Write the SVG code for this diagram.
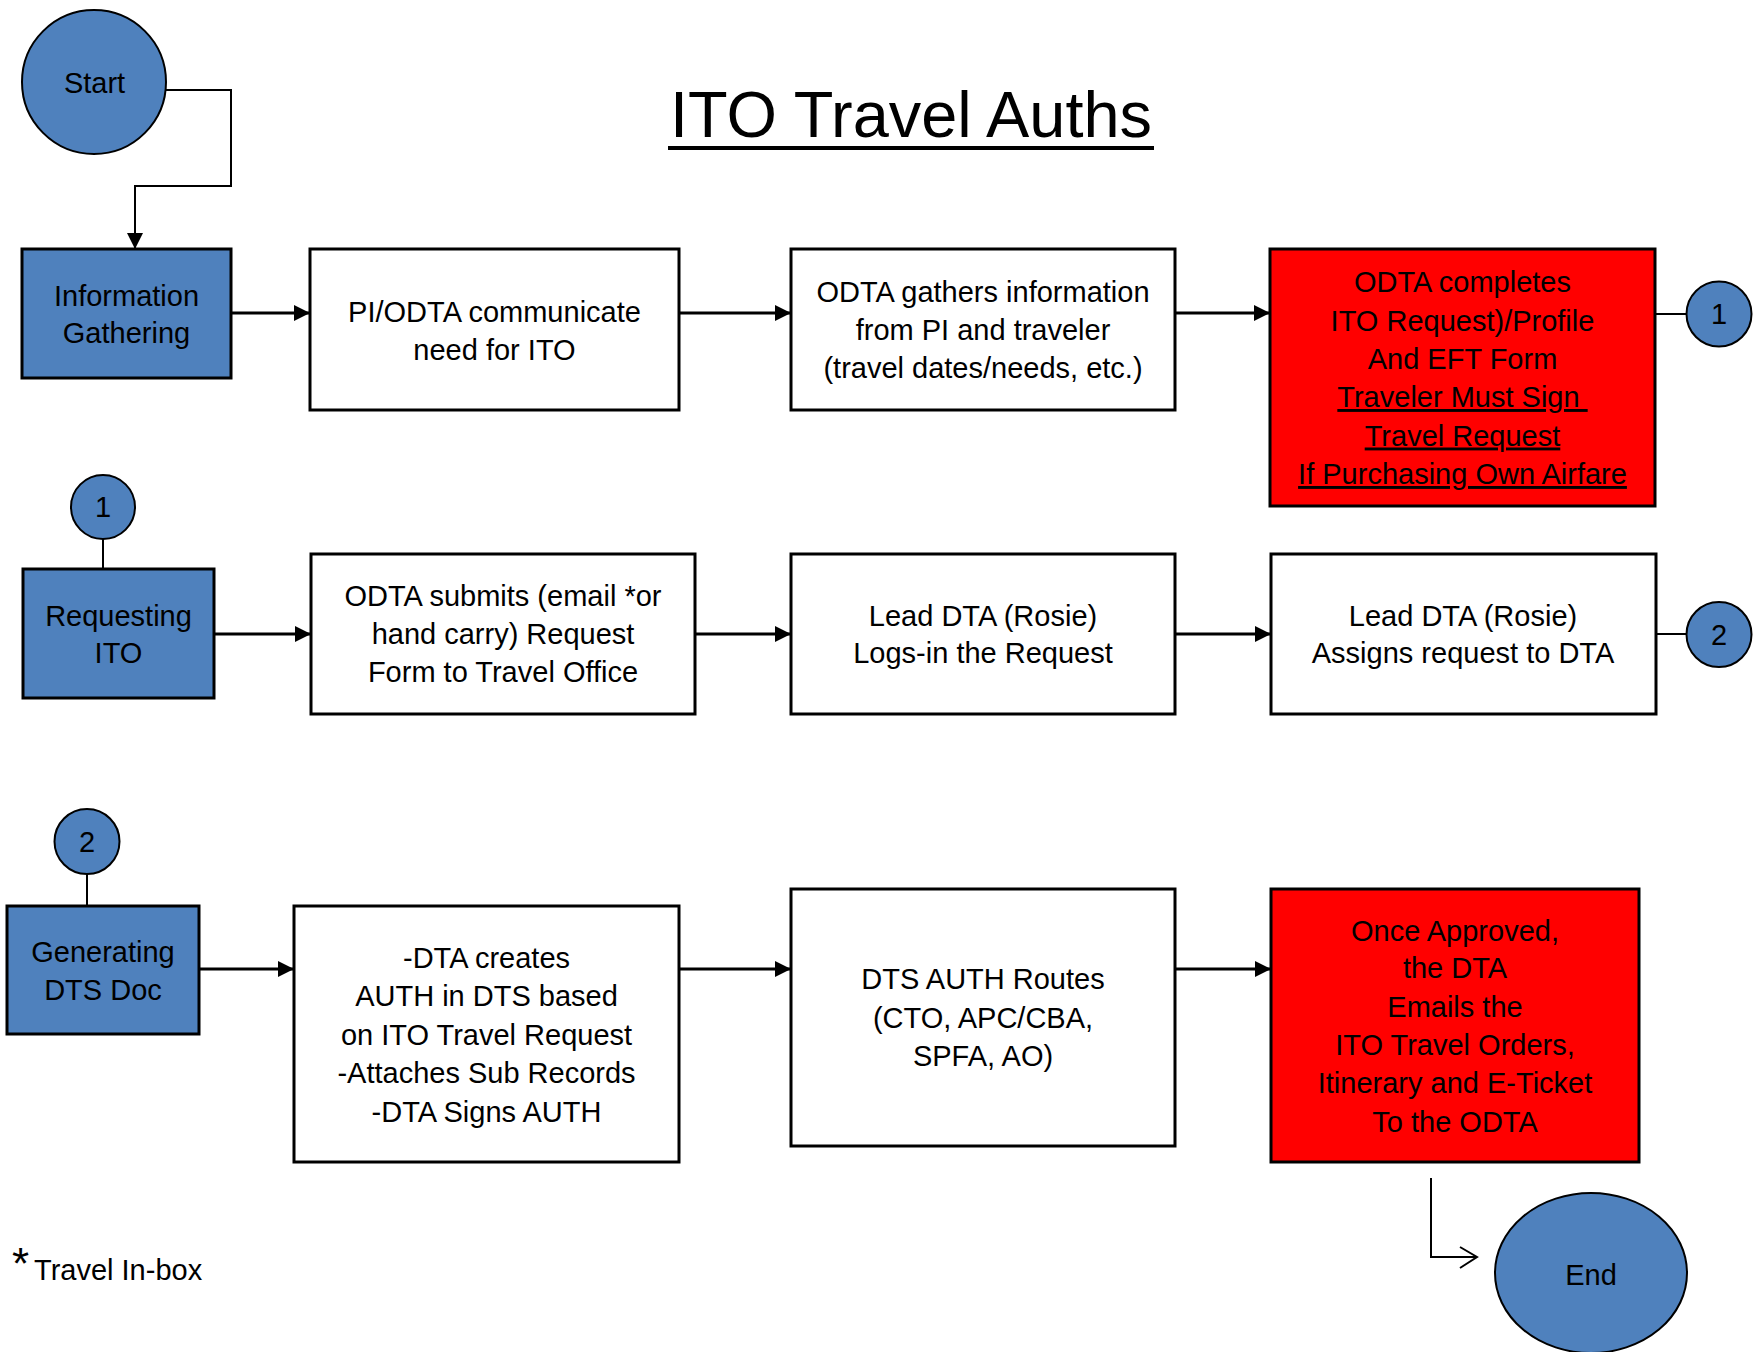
<svg xmlns="http://www.w3.org/2000/svg" width="1761" height="1352" viewBox="0 0 1761 1352">
<defs>
<marker id="ah" markerUnits="userSpaceOnUse" markerWidth="16" markerHeight="16" refX="16" refY="8" orient="auto">
<path d="M0,0 L16,8 L0,16 z" fill="#000"/>
</marker>
</defs>
<style>
.box{fill:#fff;stroke:#000;stroke-width:3}
.blue{fill:#4F81BD;stroke:#000;stroke-width:3}
.red{fill:#FF0000;stroke:#000;stroke-width:3}
.circ{fill:#4F81BD;stroke:#000;stroke-width:2}
.t{font-family:"Liberation Sans",Arial,sans-serif;font-size:29px;text-anchor:middle;fill:#000}
.u{text-decoration:underline}
.arr{fill:none;stroke:#000;stroke-width:3;marker-end:url(#ah)}
.ln{fill:none;stroke:#000;stroke-width:2}
</style>
<rect width="1761" height="1352" fill="#fff"/>

<g id="title">
<text x="911" y="137" style="font-family:'Liberation Sans',Arial,sans-serif;font-size:64px;text-anchor:middle" textLength="482" lengthAdjust="spacingAndGlyphs">ITO Travel Auths</text>
<rect x="668" y="146" width="486" height="4" fill="#000"/>
</g>

<g id="connectors">
<polyline class="ln" points="166,90 231,90 231,186 135,186 135,249" style="marker-end:url(#ah)"/>
<line class="arr" x1="231" y1="313" x2="310" y2="313"/>
<line class="arr" x1="679" y1="313" x2="791" y2="313"/>
<line class="arr" x1="1175" y1="313" x2="1270" y2="313"/>
<line class="ln" x1="1655" y1="314" x2="1687" y2="314"/>
<line class="ln" x1="103" y1="539" x2="103" y2="569"/>
<line class="arr" x1="214" y1="634" x2="311" y2="634"/>
<line class="arr" x1="695" y1="634" x2="791" y2="634"/>
<line class="arr" x1="1175" y1="634" x2="1271" y2="634"/>
<line class="ln" x1="1656" y1="634" x2="1687" y2="634"/>
<line class="ln" x1="87" y1="874" x2="87" y2="906"/>
<line class="arr" x1="199" y1="969" x2="294" y2="969"/>
<line class="arr" x1="679" y1="969" x2="791" y2="969"/>
<line class="arr" x1="1175" y1="969" x2="1271" y2="969"/>
<polyline class="ln" points="1431,1178 1431,1257 1477,1257"/>
<polyline class="ln" points="1460,1247 1477,1257 1460,1268"/>
</g>

<g id="start">
<circle class="circ" cx="94" cy="82" r="72"/>
<text class="t" x="94.5" y="93">Start</text>
</g>

<g id="info-gathering">
<rect class="blue" x="22" y="249" width="209" height="129"/>
<text class="t" x="126.5" y="306">Information</text>
<text class="t" x="126.5" y="343">Gathering</text>
</g>

<g id="pi-odta">
<rect class="box" x="310" y="249" width="369" height="161"/>
<text class="t" x="494.5" y="322">PI/ODTA communicate</text>
<text class="t" x="494.5" y="360">need for ITO</text>
</g>

<g id="odta-gathers">
<rect class="box" x="791" y="249" width="384" height="161"/>
<text class="t" x="983" y="302">ODTA gathers information</text>
<text class="t" x="983" y="340">from PI and traveler</text>
<text class="t" x="983" y="378">(travel dates/needs, etc.)</text>
</g>

<g id="odta-completes">
<rect class="red" x="1270" y="249" width="385" height="257"/>
<text class="t" x="1462.5" y="292">ODTA completes</text>
<text class="t" x="1462.5" y="330.5">ITO Request)/Profile</text>
<text class="t" x="1462.5" y="369">And EFT Form</text>
<text class="t u" x="1462.5" y="407" xml:space="preserve">Traveler Must Sign </text>
<text class="t u" x="1462.5" y="445.5">Travel Request</text>
<text class="t u" x="1462.5" y="484">If Purchasing Own Airfare</text>
</g>

<g id="conn1-out">
<circle class="circ" cx="1719" cy="314" r="32.5"/>
<text class="t" x="1719" y="324">1</text>
</g>

<g id="conn1-in">
<circle class="circ" cx="103" cy="507" r="32"/>
<text class="t" x="103" y="517">1</text>
</g>

<g id="requesting-ito">
<rect class="blue" x="23" y="569" width="191" height="129"/>
<text class="t" x="118.5" y="626">Requesting</text>
<text class="t" x="118.5" y="663">ITO</text>
</g>

<g id="odta-submits">
<rect class="box" x="311" y="554" width="384" height="160"/>
<text class="t" x="503" y="606">ODTA submits (email *or</text>
<text class="t" x="503" y="644">hand carry) Request</text>
<text class="t" x="503" y="682">Form to Travel Office</text>
</g>

<g id="lead-logs">
<rect class="box" x="791" y="554" width="384" height="160"/>
<text class="t" x="983" y="626">Lead DTA (Rosie)</text>
<text class="t" x="983" y="663">Logs-in the Request</text>
</g>

<g id="lead-assigns">
<rect class="box" x="1271" y="554" width="385" height="160"/>
<text class="t" x="1463" y="626">Lead DTA (Rosie)</text>
<text class="t" x="1463" y="663">Assigns request to DTA</text>
</g>

<g id="conn2-out">
<circle class="circ" cx="1719" cy="634.5" r="32.5"/>
<text class="t" x="1719" y="645">2</text>
</g>

<g id="conn2-in">
<circle class="circ" cx="87" cy="841.5" r="32.5"/>
<text class="t" x="87" y="852">2</text>
</g>

<g id="generating">
<rect class="blue" x="7" y="906" width="192" height="128"/>
<text class="t" x="103" y="962">Generating</text>
<text class="t" x="103" y="1000">DTS Doc</text>
</g>

<g id="dta-creates">
<rect class="box" x="294" y="906" width="385" height="256"/>
<text class="t" x="486.5" y="968">-DTA creates</text>
<text class="t" x="486.5" y="1006">AUTH in DTS based</text>
<text class="t" x="486.5" y="1045">on ITO Travel Request</text>
<text class="t" x="486.5" y="1083">-Attaches Sub Records</text>
<text class="t" x="486.5" y="1122">-DTA Signs AUTH</text>
</g>

<g id="dts-routes">
<rect class="box" x="791" y="889" width="384" height="257"/>
<text class="t" x="983" y="989">DTS AUTH Routes</text>
<text class="t" x="983" y="1028">(CTO, APC/CBA,</text>
<text class="t" x="983" y="1066">SPFA, AO)</text>
</g>

<g id="once-approved">
<rect class="red" x="1271" y="889" width="368" height="273"/>
<text class="t" x="1455" y="941">Once Approved,</text>
<text class="t" x="1455" y="978">the DTA</text>
<text class="t" x="1455" y="1017">Emails the</text>
<text class="t" x="1455" y="1055">ITO Travel Orders,</text>
<text class="t" x="1455" y="1093">Itinerary and E-Ticket</text>
<text class="t" x="1455" y="1132">To the ODTA</text>
</g>

<g id="end">
<ellipse class="circ" cx="1591" cy="1273" rx="96" ry="80"/>
<text class="t" x="1591" y="1285">End</text>
</g>

<g id="footnote">
<text x="12" y="1279" style="font-family:'Liberation Sans',Arial,sans-serif;font-size:44px">*<tspan x="34" y="1280" style="font-size:29px">Travel In-box</tspan></text>
</g>
</svg>
